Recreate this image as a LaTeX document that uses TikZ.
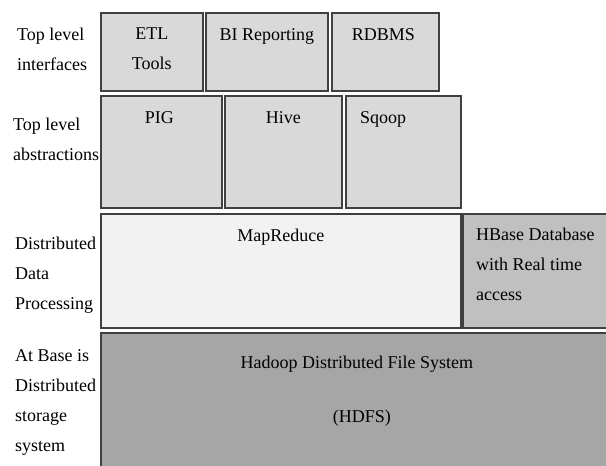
\documentclass[tikz,border=0pt]{standalone}
\usepackage{fontspec}
\setmainfont{Liberation Serif}
\usetikzlibrary{positioning}

\definecolor{tierlight}{HTML}{D9D9D9}
\definecolor{tierpale}{HTML}{F2F2F2}
\definecolor{tiermid}{HTML}{C0C0C0}
\definecolor{tierdark}{HTML}{A6A6A6}
\definecolor{tierline}{HTML}{404040}

\begin{document}
\begin{tikzpicture}[
    x=1pt, y=-1pt,
    tier/.style={rectangle, draw=tierline, line width=1.6pt, anchor=north west, inner sep=0pt},
    txt/.style={inner sep=0pt, font=\fontsize{18}{30}\selectfont},
    side/.style={txt, anchor=north west, align=left}
]
\useasboundingbox (0,0) rectangle (606,466);
\clip (0,0) rectangle (606,466);

% Top level interfaces
\node[tier, fill=tierlight, minimum width=102pt, minimum height=78pt] (etl) at (100,12) {};
\node[tier, fill=tierlight, minimum width=122pt, minimum height=78pt] (bi) at (205,12) {};
\node[tier, fill=tierlight, minimum width=107pt, minimum height=78pt] (rdbms) at (331,12) {};

% Top level abstractions
\node[tier, fill=tierlight, minimum width=121pt, minimum height=112pt] (pig) at (100,95) {};
\node[tier, fill=tierlight, minimum width=117pt, minimum height=112pt] (hive) at (224,95) {};
\node[tier, fill=tierlight, minimum width=115pt, minimum height=112pt] (sqoop) at (345,95) {};

% Distributed data processing
\node[tier, fill=tierpale, minimum width=360pt, minimum height=114pt] (mapred) at (100,213) {};
\node[tier, fill=tiermid, minimum width=150pt, minimum height=114pt] (hbase) at (462,213) {};

% Storage
\node[tier, fill=tierdark, minimum width=512pt, minimum height=140pt] (hdfs) at (100,332) {};

% Box texts
\node[txt, anchor=north, align=center] (etltxt) at ([yshift=-16pt]etl.north) {ETL\\Tools};
\node[txt, anchor=north] (bitxt) at ([yshift=-16pt]bi.north) {BI Reporting};
\node[txt, anchor=north] (rdbmstxt) at ([xshift=-2pt, yshift=-16pt]rdbms.north) {RDBMS};
\node[txt, anchor=north] (pigtxt) at ([xshift=-2pt, yshift=-16pt]pig.north) {PIG};
\node[txt, anchor=north] (hivetxt) at ([yshift=-16pt]hive.north) {Hive};
\node[txt, anchor=north west] (sqooptxt) at ([xshift=15pt, yshift=-16pt]sqoop.north west) {Sqoop};
\node[txt, anchor=north] (mapredtxt) at ([yshift=-16pt]mapred.north) {MapReduce};
\node[side] (hbasetxt) at ([xshift=14pt, yshift=-15pt]hbase.north west) {HBase Database\\with Real time\\access};
\node[txt, anchor=north] (hdfstxt) at ([yshift=-24pt]hdfs.north) {Hadoop Distributed File System};
\node[txt, anchor=north] (hdfsabbr) at ([xshift=5pt, yshift=-78pt]hdfs.north) {(HDFS)};

% Layer labels
\node[side] (lbl1) at (17,28) {Top level\\interfaces};
\node[side] (lbl2) at (13,118) {Top level\\abstractions};
\node[side] (lbl3) at (15,237) {Distributed\\Data\\Processing};
\node[side] (lbl4) at (15,349) {At Base is\\Distributed\\storage\\system};

\end{tikzpicture}
\end{document}
